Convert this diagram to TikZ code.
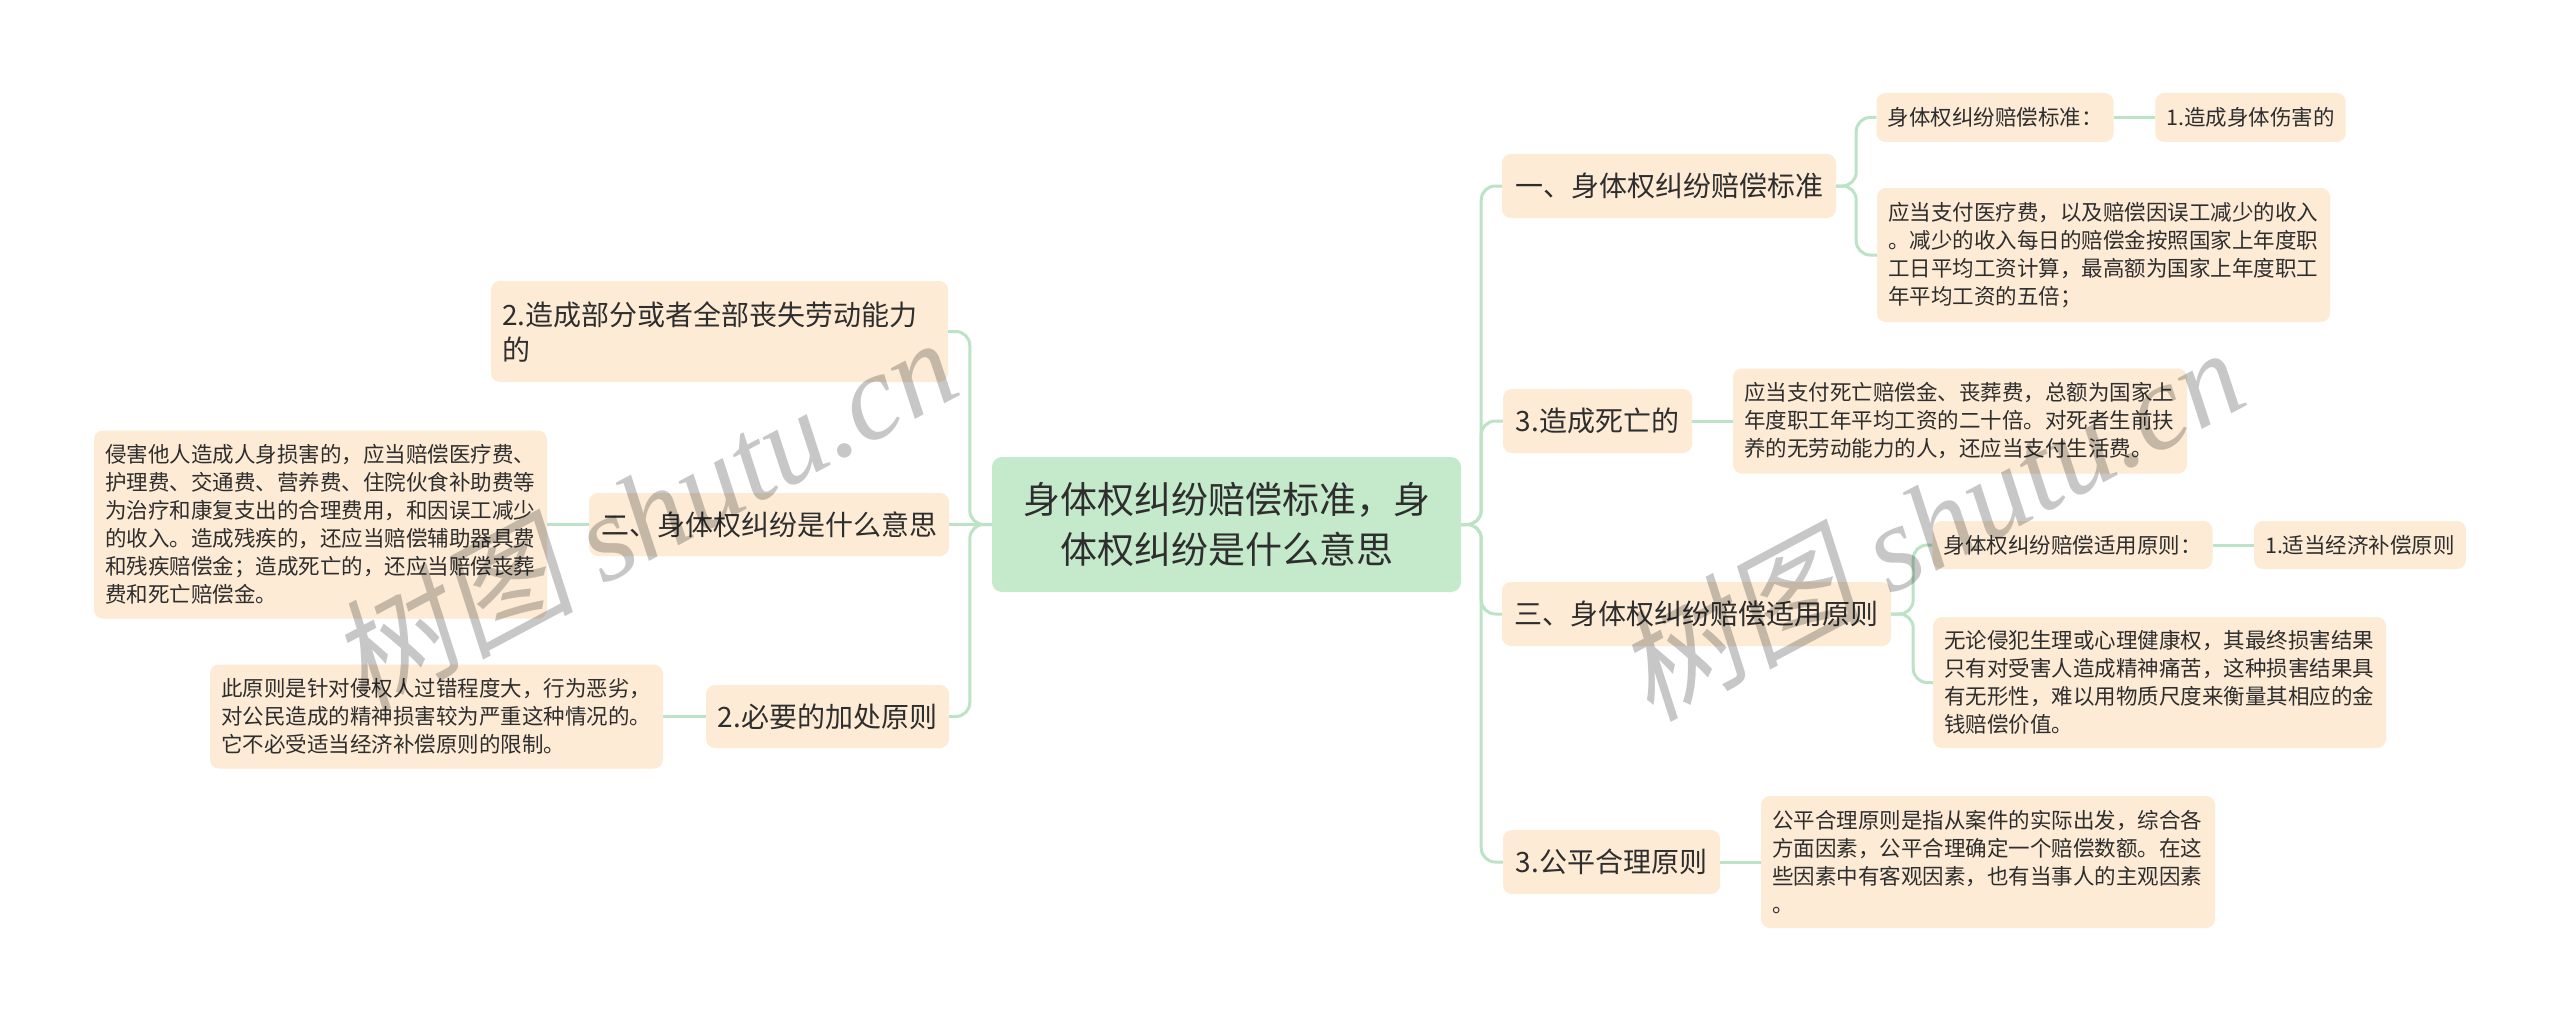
\documentclass[tikz,border=0pt]{standalone}
\usepackage{fontspec}
\setmainfont{Noto Sans CJK SC}
\newfontfamily\wmserif{Liberation Serif}
\newfontfamily\wmcjk[FakeSlant=0.18]{Noto Sans CJK SC}
\definecolor{boxfill}{HTML}{FDEBD5}
\definecolor{rootfill}{HTML}{C5EACB}
\definecolor{linkc}{HTML}{BCE3C5}
\definecolor{txt}{HTML}{2E2E2E}
\tikzset{
  bx/.style={fill=boxfill, rounded corners=9pt, text=txt, inner xsep=11pt, inner ysep=0pt, anchor=center},
  lvone/.style={bx, font=\fontsize{28}{35}\selectfont, align=center},
  lvtwo/.style={bx, font=\fontsize{21.5}{28}\selectfont, align=center},
  para/.style={bx, font=\fontsize{21.5}{28}\selectfont, align=left},
  rootbox/.style={fill=rootfill, rounded corners=10pt, text=txt, font=\fontsize{37}{50}\selectfont, align=center, inner sep=0pt},
  conn/.style={draw=linkc, line width=3pt, rounded corners=14pt},
  wmark/.style={text=black, text opacity=0.22, rotate=28, inner sep=0pt}
}
\begin{document}
\begin{tikzpicture}[x=1pt,y=-1pt]
\useasboundingbox (0,0) rectangle (2560,1022);
\fill[white] (0,0) rectangle (2560,1022);

% root
\node[rootbox, minimum width=469pt, minimum height=135pt] (root) at (1226.5,524.5) {身体权纠纷赔偿标准，身\\体权纠纷是什么意思};

% left branch
\node[bx, font=\fontsize{28}{35}\selectfont, align=left, text width=435pt, minimum height=101pt] (la) at (719.5,331.5) {2.造成部分或者全部丧失劳动能力\\的};
\node[lvone, minimum width=360pt, minimum height=63pt] (lb) at (769,524.5) {二、身体权纠纷是什么意思};
\node[lvone, minimum width=243pt, minimum height=63pt] (lc) at (827.5,716.5) {2.必要的加处原则};
\node[para, text width=431pt, minimum height=188pt] (lbt) at (320.5,524.5) {侵害他人造成人身损害的，应当赔偿医疗费、\\护理费、交通费、营养费、住院伙食补助费等\\为治疗和康复支出的合理费用，和因误工减少\\的收入。造成残疾的，还应当赔偿辅助器具费\\和残疾赔偿金；造成死亡的，还应当赔偿丧葬\\费和死亡赔偿金。};
\node[para, text width=431pt, minimum height=104pt] (lct) at (436.5,716.5) {此原则是针对侵权人过错程度大，行为恶劣，\\对公民造成的精神损害较为严重这种情况的。\\它不必受适当经济补偿原则的限制。};

% right branch
\node[lvone, minimum width=334pt, minimum height=64pt] (ra) at (1669,186) {一、身体权纠纷赔偿标准};
\node[lvone, minimum width=189pt, minimum height=64pt] (rb) at (1597.5,421) {3.造成死亡的};
\node[lvone, minimum width=389pt, minimum height=64pt] (rc) at (1696.5,614) {三、身体权纠纷赔偿适用原则};
\node[lvone, minimum width=217pt, minimum height=64pt] (rd) at (1611.5,862) {3.公平合理原则};

\node[lvtwo, minimum width=236pt, minimum height=49pt] (ra1) at (1995,117.5) {身体权纠纷赔偿标准：};
\node[lvtwo, minimum width=189pt, minimum height=49pt] (ra1a) at (2250.5,117.5) {1.造成身体伤害的};
\node[para, text width=431pt, minimum height=134pt] (ra2) at (2103.5,255) {应当支付医疗费，以及赔偿因误工减少的收入\\。减少的收入每日的赔偿金按照国家上年度职\\工日平均工资计算，最高额为国家上年度职工\\年平均工资的五倍；};
\node[para, text width=432pt, minimum height=105pt] (rbt) at (1960,421) {应当支付死亡赔偿金、丧葬费，总额为国家上\\年度职工年平均工资的二十倍。对死者生前扶\\养的无劳动能力的人，还应当支付生活费。};
\node[lvtwo, minimum width=279pt, minimum height=48pt] (rc1) at (2072.5,545) {身体权纠纷赔偿适用原则：};
\node[lvtwo, minimum width=210pt, minimum height=48pt] (rc1a) at (2360,545) {1.适当经济补偿原则};
\node[para, text width=431pt, minimum height=131pt] (rc2) at (2159.5,682.5) {无论侵犯生理或心理健康权，其最终损害结果\\只有对受害人造成精神痛苦，这种损害结果具\\有无形性，难以用物质尺度来衡量其相应的金\\钱赔偿价值。};
\node[para, text width=432pt, minimum height=132pt] (rdt) at (1988,862) {公平合理原则是指从案件的实际出发，综合各\\方面因素，公平合理确定一个赔偿数额。在这\\些因素中有客观因素，也有当事人的主观因素\\。};

% connectors
\draw[conn] (root.west) -- (lb.east);
\draw[conn] (root.west) -- ++(-22,0) |- (la.east);
\draw[conn] (root.west) -- ++(-22,0) |- (lc.east);
\draw[conn] (lb.west) -- (lbt.east);
\draw[conn] (lc.west) -- (lct.east);

\draw[conn] (root.east) -- ++(20,0) |- (ra.west);
\draw[conn] (root.east) -- ++(20,0) |- (rb.west);
\draw[conn] (root.east) -- ++(20,0) |- (rc.west);
\draw[conn] (root.east) -- ++(20,0) |- (rd.west);

\draw[conn] (ra.east) -- ++(20,0) |- (ra1.west);
\draw[conn] (ra.east) -- ++(20,0) |- (ra2.west);
\draw[conn] (ra1.east) -- (ra1a.west);
\draw[conn] (rb.east) -- (rbt.west);
\draw[conn] (rc.east) -- ++(22,0) |- (rc1.west);
\draw[conn] (rc.east) -- ++(22,0) |- (rc2.west);
\draw[conn] (rc1.east) -- (rc1a.west);
\draw[conn] (rd.east) -- (rdt.west);

% watermarks
\node[wmark] (wm1) at (643,512) {\wmcjk\fontsize{122}{122}\selectfont 树图 {\wmserif\itshape shutu.cn}};
\node[wmark] (wm2) at (1930,522) {\wmcjk\fontsize{122}{122}\selectfont 树图 {\wmserif\itshape shutu.cn}};
\end{tikzpicture}
\end{document}
